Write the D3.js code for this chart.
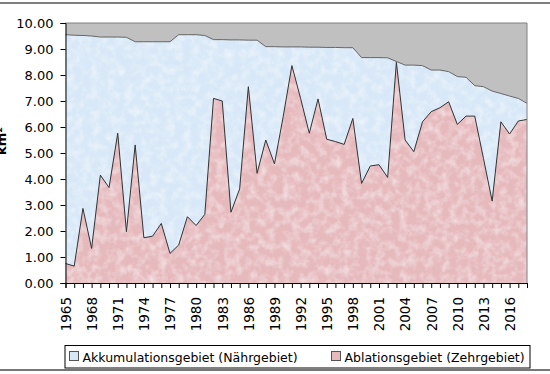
<!DOCTYPE html>
<html>
<head>
<meta charset="utf-8">
<script src="https://cdnjs.cloudflare.com/ajax/libs/d3/7.8.5/d3.min.js"></script>
<style>
  body { margin: 0; background: #fff; }
  text { font-family: "DejaVu Sans", Verdana, sans-serif; fill: #000; }
</style>
</head>
<body>
<div id="chart"></div>
<script>
// years 1965..2018
var years = d3.range(1965, 2019);

// Ablationsgebiet (Zehrgebiet), km²
var ablation = [0.75, 0.65, 2.87, 1.33, 4.15, 3.67, 5.76, 1.97, 5.31, 1.74,
  1.80, 2.29, 1.14, 1.46, 2.55, 2.21, 2.64, 7.10, 7.00, 2.72,
  3.62, 7.55, 4.22, 5.50, 4.58, 6.40, 8.36, 7.10, 5.76, 7.08,
  5.53, 5.44, 5.33, 6.33, 3.83, 4.50, 4.55, 4.06, 8.49, 5.50,
  5.05, 6.20, 6.59, 6.74, 6.97, 6.10, 6.42, 6.42, 4.79, 3.15,
  6.20, 5.73, 6.23, 6.29];

// Akkumulationsgebiet (Nährgebiet), km²
var akkumulation = [8.80, 8.88, 6.65, 8.17, 5.31, 5.79, 3.70, 7.48, 3.97, 7.54,
  7.48, 6.99, 8.14, 8.09, 7.00, 7.34, 6.88, 2.26, 2.36, 6.63,
  5.73, 1.79, 5.12, 3.59, 4.51, 2.68, 0.72, 1.98, 3.31, 1.99,
  3.53, 3.62, 3.72, 2.72, 4.84, 4.17, 4.12, 4.60, 0.03, 2.88,
  3.33, 2.16, 1.60, 1.45, 1.16, 1.84, 1.49, 1.17, 2.76, 4.23,
  1.09, 1.46, 0.87, 0.62];

var yTicks = [0, 1, 2, 3, 4, 5, 6, 7, 8, 9, 10];
var seriesNames = ["Akkumulationsgebiet (Nährgebiet)", "Ablationsgebiet (Zehrgebiet)"];

var W = 550, H = 374;
var plot = { left: 65.5, right: 527, top: 23, bottom: 283 };

var svg = d3.select("#chart").append("svg")
  .attr("width", W).attr("height", H);

// paper-like texture for the area fills
var defs = svg.append("defs");
var f = defs.append("filter").attr("id", "tex")
  .attr("x", 0).attr("y", 0).attr("width", 1).attr("height", 1);
f.append("feTurbulence").attr("type", "fractalNoise")
  .attr("baseFrequency", 0.12).attr("numOctaves", 3).attr("seed", 4).attr("result", "n");
f.append("feColorMatrix").attr("in", "n").attr("type", "matrix")
  .attr("values", "0 0 0 0 1  0 0 0 0 1  0 0 0 0 1  0 0 0 -0.9 0.55").attr("result", "w");
f.append("feComposite").attr("in", "w").attr("in2", "SourceGraphic")
  .attr("operator", "in").attr("result", "wc");
var fm = f.append("feMerge");
fm.append("feMergeNode").attr("in", "SourceGraphic");
fm.append("feMergeNode").attr("in", "wc");

// outer frame lines
svg.append("line").attr("x1", 0).attr("x2", W).attr("y1", 3).attr("y2", 3)
  .attr("stroke", "#555").attr("stroke-width", 1.5);
svg.append("line").attr("x1", 0).attr("x2", W).attr("y1", 370).attr("y2", 370)
  .attr("stroke", "#777").attr("stroke-width", 2);

var x = d3.scalePoint().domain(years).range([plot.left, plot.right]);
var y = d3.scaleLinear().domain([0, 10]).range([plot.bottom, plot.top]);

// plot area background
svg.append("rect")
  .attr("x", plot.left).attr("y", plot.top)
  .attr("width", plot.right - plot.left).attr("height", plot.bottom - plot.top)
  .attr("fill", "#c0c0c0");

var table = years.map(function(yr, i) {
  return { year: yr, abl: ablation[i], akk: akkumulation[i] };
});
var stack = d3.stack().keys(["abl", "akk"])(table);
var fills = { abl: "#e6b9bd", akk: "#d8e8f8" };
var strokes = { abl: "#333", akk: "#666" };

var area = d3.area()
  .x(function(d) { return x(d.data.year); })
  .y0(function(d) { return y(d[0]); })
  .y1(function(d) { return y(d[1]); });
var line = d3.line()
  .x(function(d) { return x(d.data.year); })
  .y(function(d) { return y(d[1]); });

svg.selectAll(".area").data(stack).enter().append("path")
  .attr("d", area)
  .attr("fill", function(s) { return fills[s.key]; })
  .attr("filter", "url(#tex)");
svg.selectAll(".edge").data(stack).enter().append("path")
  .attr("d", line)
  .attr("fill", "none")
  .attr("stroke", function(s) { return strokes[s.key]; })
  .attr("stroke-width", 1);

// plot border (top/right)
svg.append("path")
  .attr("d", "M" + plot.left + "," + plot.top + "H" + plot.right + "V" + plot.bottom)
  .attr("fill", "none").attr("stroke", "#808080").attr("stroke-width", 1);

// y axis
var yAxis = svg.append("g")
  .attr("transform", "translate(" + plot.left + ",0)")
  .call(d3.axisLeft(y).tickValues(yTicks).tickSize(5).tickPadding(7)
    .tickFormat(d3.format(".2f")));
yAxis.select(".domain").attr("stroke", "#000");
yAxis.selectAll("text").style("font-size", "13px");

// x axis
var xAxis = svg.append("g")
  .attr("transform", "translate(0," + plot.bottom + ")")
  .call(d3.axisBottom(x).tickSize(5)
    .tickFormat(function(d) { return (d - 1965) % 3 === 0 ? d : ""; }));
xAxis.select(".domain").attr("stroke", "#000");
xAxis.selectAll("text")
  .style("font-size", "13.5px")
  .attr("text-anchor", "end")
  .attr("dy", "0.36em")
  .attr("transform", "translate(0,14) rotate(-90)")
  .attr("x", 0).attr("y", 0);

// y axis title (cut at the left edge as in the source)
svg.append("text")
  .attr("transform", "translate(5.5,141) rotate(-90)")
  .attr("text-anchor", "middle")
  .style("font-size", "13px").style("font-weight", "bold")
  .text("km²");

// legend
var lg = svg.append("g");
lg.append("rect").attr("x", 65).attr("y", 345.5).attr("width", 465).attr("height", 22.5)
  .attr("fill", "#fff").attr("stroke", "#000").attr("stroke-width", 1);
var legendX = [69.5, 331.5];
var legendFill = [fills.akk, fills.abl];
seriesNames.forEach(function(name, i) {
  lg.append("rect").attr("x", legendX[i]).attr("y", 351.5).attr("width", 9).attr("height", 9)
    .attr("fill", legendFill[i]).attr("stroke", "#555");
  lg.append("text").attr("x", legendX[i] + 13).attr("y", 361.5)
    .style("font-size", "12.5px").text(name);
});
</script>
</body>
</html>
